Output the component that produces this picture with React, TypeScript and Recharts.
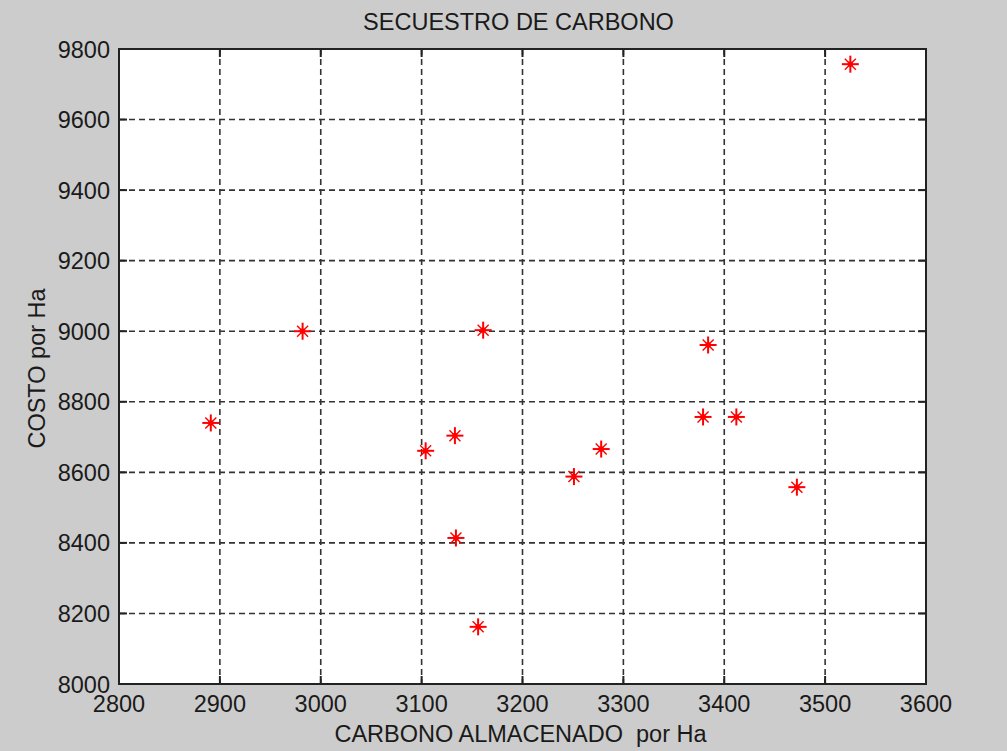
import React from 'react';
import { ScatterChart, Scatter, XAxis, YAxis, CartesianGrid, ReferenceArea, Label } from 'recharts';

const carbono = [2891, 2982, 3104, 3133, 3161, 3134, 3156, 3251, 3278, 3379, 3384, 3412, 3472, 3525];
const costo = [8740, 9000, 8661, 8704, 9003, 8414, 8162, 8588, 8666, 8757, 8961, 8757, 8558, 9757];
const xTicks = [2800, 2900, 3000, 3100, 3200, 3300, 3400, 3500, 3600];
const yTicks = [8000, 8200, 8400, 8600, 8800, 9000, 9200, 9400, 9600, 9800];
const titleText = 'SECUESTRO DE CARBONO';
const xLabelText = 'CARBONO ALMACENADO  por Ha';
const yLabelText = 'COSTO por Ha';

const data = carbono.map((x, i) => ({ x, y: costo[i] }));

const W = 1007;
const H = 751;
const PLOT_W = 807;
const PLOT_H = 635;
const FONT = '"Liberation Sans", Arial, Helvetica, sans-serif';
const FS = 23.5;
const TXT = '#1a1a1a';
const AX = '#222';

const Star = (props: any) => {
  const { cx, cy } = props;
  if (cx == null || cy == null) return null;
  return (
    <g stroke="#ff0000" strokeLinecap="butt">
      <line x1={cx - 8.5} y1={cy} x2={cx + 8.5} y2={cy} strokeWidth={2} />
      <line x1={cx} y1={cy - 8.5} x2={cx} y2={cy + 8.5} strokeWidth={2} />
      <line x1={cx - 5.5} y1={cy - 5.5} x2={cx + 5.5} y2={cy + 5.5} strokeWidth={1.4} />
      <line x1={cx - 5.5} y1={cy + 5.5} x2={cx + 5.5} y2={cy - 5.5} strokeWidth={1.4} />
      <rect x={cx - 2.5} y={cy - 2.5} width={5} height={5} fill="#ff0000" stroke="none" />
    </g>
  );
};

const XTick = (props: any) => {
  const { x, y, payload } = props;
  return (
    <g>
      <line x1={x} y1={y} x2={x} y2={y - 8} stroke={AX} strokeWidth={2} />
      <line x1={x} y1={y - PLOT_H} x2={x} y2={y - PLOT_H + 8} stroke={AX} strokeWidth={2} />
      <text x={x} y={y + 28} textAnchor="middle" fontFamily={FONT} fontSize={FS} fill={TXT}>
        {payload.value}
      </text>
    </g>
  );
};

const YTick = (props: any) => {
  const { x, y, payload } = props;
  return (
    <g>
      <line x1={x} y1={y} x2={x + 8} y2={y} stroke={AX} strokeWidth={2} />
      <line x1={x + PLOT_W} y1={y} x2={x + PLOT_W - 8} y2={y} stroke={AX} strokeWidth={2} />
      <text x={x - 9} y={y + 8.5} textAnchor="end" fontFamily={FONT} fontSize={FS} fill={TXT}>
        {payload.value}
      </text>
    </g>
  );
};

const XLabel = (props: any) => {
  const vb = props.viewBox || {};
  return (
    <text
      x={vb.x + vb.width / 2 - 2}
      y={vb.y + 58}
      textAnchor="middle"
      fontFamily={FONT}
      fontSize={FS}
      fill={TXT}
      xmlSpace="preserve"
      style={{ whiteSpace: 'pre' }}
    >
      {xLabelText}
    </text>
  );
};

const YLabel = (props: any) => {
  const vb = props.viewBox || {};
  const cx = 45;
  const cy = vb.y + vb.height / 2 + 2;
  return (
    <text x={cx} y={cy} transform={`rotate(-90 ${cx} ${cy})`} textAnchor="middle" fontFamily={FONT} fontSize={FS} fill={TXT}>
      {yLabelText}
    </text>
  );
};

export default function App() {
  return (
    <div style={{ position: 'absolute', left: 0, top: 0, width: W, height: H, background: '#cccccc' }}>
      <ScatterChart width={W} height={H} margin={{ top: 49, right: 81, left: 0, bottom: 0 }}>
        <CartesianGrid stroke="#333" strokeWidth={1.6} strokeDasharray="6 4" fill="#ffffff" fillOpacity={1} />
        <XAxis
          type="number"
          dataKey="x"
          domain={[2800, 3600]}
          ticks={xTicks}
          interval={0}
          height={67}
          tickSize={0}
          tickMargin={0}
          tick={<XTick />}
          axisLine={{ stroke: AX, strokeWidth: 2 }}
          tickLine={false}
        >
          <Label content={<XLabel />} />
        </XAxis>
        <YAxis
          type="number"
          dataKey="y"
          domain={[8000, 9800]}
          ticks={yTicks}
          interval={0}
          width={119}
          tickSize={0}
          tickMargin={0}
          tick={<YTick />}
          axisLine={{ stroke: AX, strokeWidth: 2 }}
          tickLine={false}
        >
          <Label content={<YLabel />} />
        </YAxis>
        <ReferenceArea x1={2800} x2={3600} y1={8000} y2={9800} fill="none" fillOpacity={0} stroke={AX} strokeWidth={2} />
        <Scatter data={data} shape={<Star />} isAnimationActive={false} />
      </ScatterChart>
      <svg width={W} height={40} style={{ position: 'absolute', left: 0, top: 0 }}>
        <text x={518.5} y={30} textAnchor="middle" fontFamily={FONT} fontSize={FS} fill={TXT}>
          {titleText}
        </text>
      </svg>
    </div>
  );
}
